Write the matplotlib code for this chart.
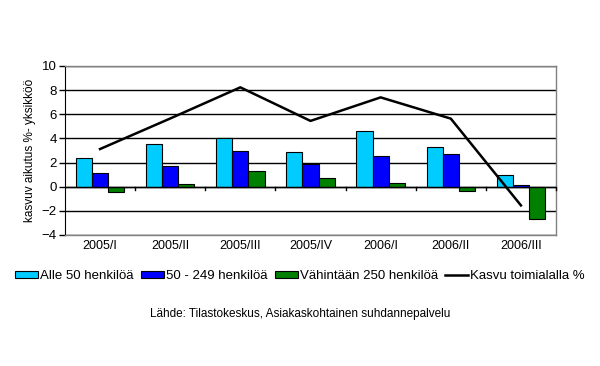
import numpy as np
import matplotlib
matplotlib.use('Agg')
import matplotlib.pyplot as plt
from matplotlib.patches import Patch
from matplotlib.lines import Line2D

plt.rcParams['font.family'] = ['Liberation Sans', 'DejaVu Sans']

# data
periods = ['2005/I', '2005/II', '2005/III', '2005/IV', '2006/I', '2006/II', '2006/III']
alle50 = [2.38, 3.54, 4.0, 2.87, 4.61, 3.29, 0.97]
keski = [1.13, 1.71, 2.96, 1.85, 2.54, 2.71, 0.14]
suuri = [-0.44, 0.22, 1.30, 0.72, 0.30, -0.36, -2.68]
kasvu = [3.12, 5.65, 8.23, 5.45, 7.40, 5.64, -1.55]
names = ['Alle 50 henkilöä', '50 - 249 henkilöä', 'Vähintään 250 henkilöä', 'Kasvu toimialalla %']
colors = ['#00CCFF', '#0000FF', '#008000']

fig = plt.figure(figsize=(6.0, 3.66), dpi=100)
ax = fig.add_axes([0.1083, 0.358, 0.8184, 0.4617])

x = np.arange(len(periods))
w = 0.23
for i, (vals, c) in enumerate(zip([alle50, keski, suuri], colors)):
    ax.bar(x + (i - 1) * w, vals, width=w, color=c, edgecolor='black', linewidth=0.8, zorder=3)

ax.plot(x, kasvu, color='black', linewidth=1.8, zorder=4)

ax.set_xlim(-0.5, len(periods) - 0.5)
ax.set_ylim(-4, 10)
ax.set_yticks(np.arange(-4, 11, 2))
ax.yaxis.grid(True, color='black', linewidth=1.0, zorder=0)
ax.tick_params(axis='y', labelsize=9.5, length=4, direction='out', width=1, pad=2)
ax.set_ylabel('kasvuv aikutus %- yksikköö', fontsize=8.5, labelpad=4)

# x axis sits at zero, labels at the bottom
ax.set_xticks([])
ax.axhline(0, color='black', linewidth=1.0, zorder=5)
for b in np.arange(0.5, len(periods), 1.0):
    ax.plot([b, b], [0, -0.3], color='black', linewidth=1.0, zorder=5, clip_on=False)
for xi, p in zip(x, periods):
    ax.text(xi, -4.9, p, ha='center', va='center', fontsize=9)

for s in ['top', 'right', 'bottom']:
    ax.spines[s].set_color('#808080')
    ax.spines[s].set_linewidth(1.0)
ax.spines['left'].set_color('black')

handles = [Patch(facecolor=c, edgecolor='black', linewidth=0.8) for c in colors]
handles.append(Line2D([0], [0], color='black', linewidth=1.8))
fig.legend(handles, names, loc='center', bbox_to_anchor=(0.5, 0.245), ncol=4, frameon=False,
           fontsize=9.5, handlelength=1.75, handleheight=0.5, handletextpad=0.15, columnspacing=0.55)

fig.text(0.5, 0.142, 'Lähde: Tilastokeskus, Asiakaskohtainen suhdannepalvelu', ha='center', va='center', fontsize=8.5)

fig.savefig('out.png', dpi=100)
